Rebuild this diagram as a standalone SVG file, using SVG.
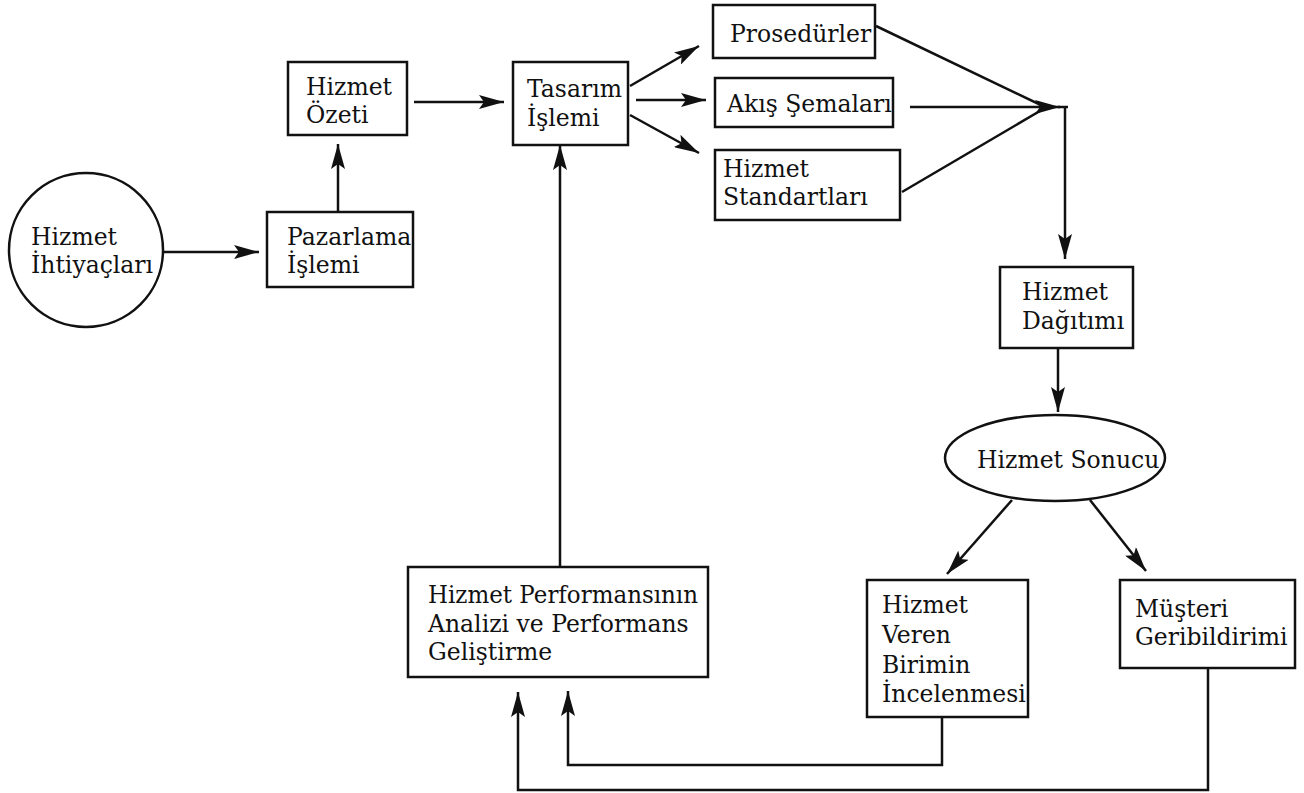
<svg xmlns="http://www.w3.org/2000/svg" width="1304" height="793" viewBox="0 0 1304 793">
<style>
.box{fill:#fff;stroke:#111;stroke-width:2.5}
.t{font-family:'DejaVu Serif','Liberation Serif',serif;font-size:23.5px;fill:#111}
.c{fill:none;stroke:#111;stroke-width:2.5}
</style>
<defs>
<marker id="ah" markerUnits="userSpaceOnUse" markerWidth="26" markerHeight="14" refX="25" refY="7" orient="auto">
<path d="M0,0 L25,7 L0,14 L5,7 z" fill="#111"/>
</marker>
</defs>
<rect width="1304" height="793" fill="#fff"/>
<g id="connectors">
<line class="c" x1="163" y1="252" x2="259" y2="252" marker-end="url(#ah)"/>
<line class="c" x1="338" y1="212" x2="338" y2="144" marker-end="url(#ah)"/>
<line class="c" x1="414" y1="102" x2="504" y2="102" marker-end="url(#ah)"/>
<line class="c" x1="630" y1="86" x2="699" y2="46" marker-end="url(#ah)"/>
<line class="c" x1="636" y1="100" x2="706" y2="100" marker-end="url(#ah)"/>
<line class="c" x1="630" y1="115" x2="699" y2="153" marker-end="url(#ah)"/>
<line class="c" x1="876" y1="26" x2="1045" y2="107"/>
<line class="c" x1="902" y1="192" x2="1045" y2="108"/>
<line class="c" x1="910" y1="107" x2="1060" y2="107" marker-end="url(#ah)"/>
<line class="c" x1="1058" y1="107" x2="1068" y2="107"/>
<line class="c" x1="1065" y1="106" x2="1065" y2="259" marker-end="url(#ah)"/>
<line class="c" x1="1058" y1="348" x2="1058" y2="412" marker-end="url(#ah)"/>
<line class="c" x1="1012" y1="500" x2="947" y2="574" marker-end="url(#ah)"/>
<line class="c" x1="1090" y1="500" x2="1146" y2="571" marker-end="url(#ah)"/>
<line class="c" x1="560" y1="567" x2="560" y2="145" marker-end="url(#ah)"/>
<polyline class="c" points="942,717 942,765 568,765 568,691" marker-end="url(#ah)"/>
<polyline class="c" points="1208,668 1208,790 518,790 518,692" marker-end="url(#ah)"/>
</g>
<g id="n-ihtiyaclar">
<circle class="box" cx="86" cy="250" r="77"/>
<text class="t" x="31" y="245">Hizmet</text>
<text class="t" x="31" y="273">İhtiyaçları</text>
</g>
<g id="n-pazarlama">
<rect class="box" x="267" y="212" width="146" height="75"/>
<text class="t" x="287" y="245">Pazarlama</text>
<text class="t" x="287" y="273">İşlemi</text>
</g>
<g id="n-ozet">
<rect class="box" x="288" y="62" width="119" height="73"/>
<text class="t" x="306" y="95">Hizmet</text>
<text class="t" x="306" y="123">Özeti</text>
</g>
<g id="n-tasarim">
<rect class="box" x="513" y="62" width="115" height="83"/>
<text class="t" x="527" y="97">Tasarım</text>
<text class="t" x="527" y="126">İşlemi</text>
</g>
<g id="n-prosedur">
<rect class="box" x="713" y="5" width="162" height="53"/>
<text class="t" x="730" y="42">Prosedürler</text>
</g>
<g id="n-akis">
<rect class="box" x="715" y="78" width="178" height="49"/>
<text class="t" x="727" y="112">Akış Şemaları</text>
</g>
<g id="n-standart">
<rect class="box" x="715" y="150" width="185" height="70"/>
<text class="t" x="723" y="177">Hizmet</text>
<text class="t" x="723" y="205">Standartları</text>
</g>
<g id="n-dagitim">
<rect class="box" x="1000" y="267" width="133" height="81"/>
<text class="t" x="1022" y="300">Hizmet</text>
<text class="t" x="1022" y="329">Dağıtımı</text>
</g>
<g id="n-sonuc">
<ellipse class="box" cx="1055" cy="458" rx="110" ry="43"/>
<text class="t" x="977" y="468">Hizmet Sonucu</text>
</g>
<g id="n-inceleme">
<rect class="box" x="867" y="580" width="161" height="137"/>
<text class="t" x="882" y="613">Hizmet</text>
<text class="t" x="882" y="643">Veren</text>
<text class="t" x="882" y="673">Birimin</text>
<text class="t" x="882" y="702">İncelenmesi</text>
</g>
<g id="n-musteri">
<rect class="box" x="1120" y="580" width="175" height="88"/>
<text class="t" x="1135" y="617">Müşteri</text>
<text class="t" x="1135" y="645">Geribildirimi</text>
</g>
<g id="n-performans">
<rect class="box" x="408" y="567" width="300" height="110"/>
<text class="t" x="428" y="603" textLength="270" lengthAdjust="spacingAndGlyphs">Hizmet Performansının</text>
<text class="t" x="428" y="632">Analizi ve Performans</text>
<text class="t" x="428" y="660">Geliştirme</text>
</g>
</svg>
